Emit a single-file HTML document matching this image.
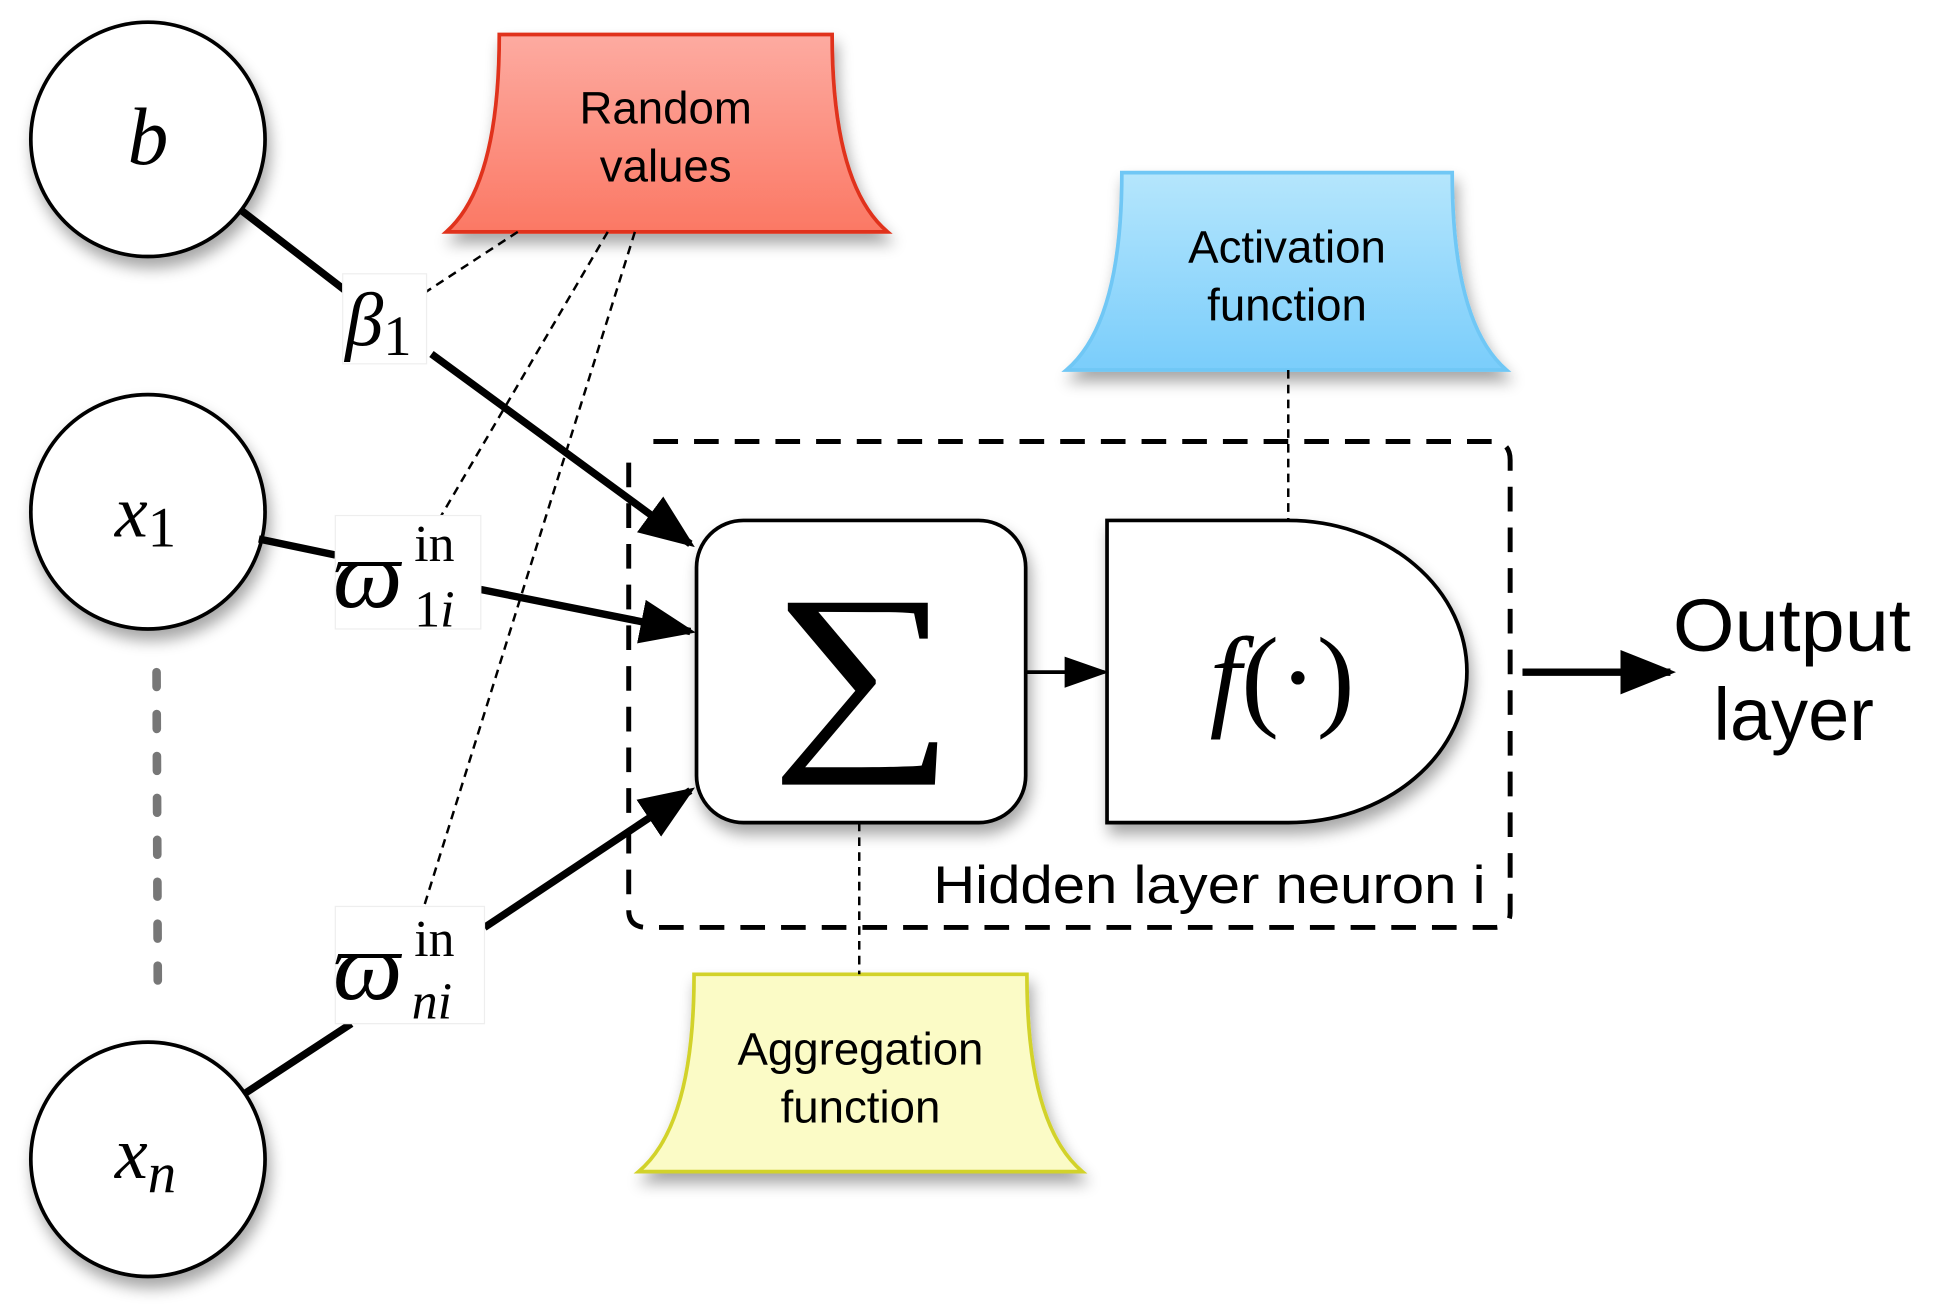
<!DOCTYPE html>
<html><head><meta charset="utf-8"><style>
html,body{margin:0;padding:0;background:#fff;width:1933px;height:1311px;overflow:hidden}
svg{display:block}
.s{font-family:"Liberation Sans",sans-serif}
.m{font-family:"Liberation Serif","DejaVu Serif",serif}
</style></head><body>
<svg width="1933" height="1311" viewBox="0 0 1568 1063" preserveAspectRatio="none" xmlns="http://www.w3.org/2000/svg">
<defs>
<linearGradient id="gr" x1="0" y1="0" x2="0" y2="1"><stop offset="0" stop-color="#fdaba1"/><stop offset="1" stop-color="#fb7864"/></linearGradient>
<linearGradient id="gb" x1="0" y1="0" x2="0" y2="1"><stop offset="0" stop-color="#b5e6fc"/><stop offset="1" stop-color="#7acdfb"/></linearGradient>
<filter id="sh" x="-20%" y="-20%" width="150%" height="150%"><feGaussianBlur in="SourceAlpha" stdDeviation="6"/><feOffset dx="3" dy="8"/><feComponentTransfer><feFuncA type="linear" slope="0.35"/></feComponentTransfer><feMerge><feMergeNode/><feMergeNode in="SourceGraphic"/></feMerge></filter>
<marker id="ah" viewBox="0 0 10 10" refX="9" refY="5" markerWidth="7.5" markerHeight="7.5" orient="auto" markerUnits="strokeWidth"><path d="M0,1 L10,5 L0,9z" fill="#000"/></marker>
<marker id="ah2" viewBox="0 0 10 10" refX="9" refY="5" markerWidth="12" markerHeight="12" orient="auto" markerUnits="strokeWidth"><path d="M0,1.5 L10,5 L0,8.5z" fill="#000"/></marker>
</defs>

<g fill="#fff" stroke="#000" stroke-width="3" filter="url(#sh)">
<ellipse cx="120" cy="113" rx="95" ry="95"/>
<ellipse cx="120" cy="415" rx="95" ry="95"/>
<ellipse cx="120" cy="940" rx="95" ry="95"/>
</g>
<text x="120" y="133" text-anchor="middle" class="m" font-style="italic" font-size="66">b</text>
<text x="118" y="435" text-anchor="middle" class="m" font-size="60"><tspan font-style="italic">x</tspan><tspan font-size="46" dy="8">1</tspan></text>
<text x="118" y="955" text-anchor="middle" class="m" font-size="60"><tspan font-style="italic">x</tspan><tspan font-size="46" font-style="italic" dy="12">n</tspan></text>
<line x1="127" y1="545" x2="128" y2="800" stroke="#777" stroke-width="7" stroke-dasharray="12 22" stroke-linecap="round"/>

<path d="M405,28 H675 Q675,150 720,188 H362 Q405,150 405,28Z" fill="url(#gr)" stroke="#e0301a" stroke-width="3" filter="url(#sh)"/>
<text x="540" y="100" text-anchor="middle" class="s" font-size="37">Random</text>
<text x="540" y="147" text-anchor="middle" class="s" font-size="37">values</text>
<path d="M910,140 H1178 Q1178,262 1222,300 H865 Q910,262 910,140Z" fill="url(#gb)" stroke="#6fc7f5" stroke-width="3" filter="url(#sh)"/>
<text x="1044" y="213" text-anchor="middle" class="s" font-size="37">Activation</text>
<text x="1044" y="260" text-anchor="middle" class="s" font-size="37">function</text>
<path d="M563,790 H833 Q833,912 878,950 H518 Q563,912 563,790Z" fill="#fbfbc6" stroke="#d2d22a" stroke-width="3" filter="url(#sh)"/>
<text x="698" y="863" text-anchor="middle" class="s" font-size="37">Aggregation</text>
<text x="698" y="910" text-anchor="middle" class="s" font-size="37">function</text>

<path d="M530,358 H1210 Q1225,358 1225,373 V740 Q1225,752 1212,752 H525 Q510,752 510,738 V372" fill="none" stroke="#000" stroke-width="4" stroke-dasharray="20 13"/>

<g stroke="#000" stroke-width="2" stroke-dasharray="7 5" fill="none">
<line x1="420" y1="188" x2="345" y2="237"/>
<line x1="493" y1="188" x2="358" y2="418"/>
<line x1="515" y1="188" x2="343" y2="738"/>
<line x1="1045" y1="300" x2="1045" y2="422"/>
<line x1="697" y1="667" x2="697" y2="790"/>
</g>

<rect x="565" y="422" width="267" height="245" rx="38" fill="#fff" stroke="#000" stroke-width="3" filter="url(#sh)"/>
<text x="700" y="600" text-anchor="middle" class="m" font-size="170" textLength="150" lengthAdjust="spacingAndGlyphs">∑</text>
<path d="M898,422 H1045 A145,122.5 0 0 1 1045,667 H898Z" fill="#fff" stroke="#000" stroke-width="3" filter="url(#sh)"/>
<text x="1040" y="580" text-anchor="middle" class="m" font-size="92"><tspan font-style="italic">f</tspan>(·)</text>
<line x1="832" y1="545" x2="896" y2="545" stroke="#000" stroke-width="3" marker-end="url(#ah2)"/>

<g stroke="#000" stroke-width="6" fill="none">
<line x1="195" y1="170" x2="282" y2="237"/>
<line x1="350" y1="287" x2="560" y2="441" marker-end="url(#ah)"/>
<line x1="210" y1="437" x2="272" y2="450"/>
<line x1="390" y1="478" x2="560" y2="512" marker-end="url(#ah)"/>
<line x1="198" y1="887" x2="285" y2="830"/>
<line x1="393" y1="752" x2="560" y2="641" marker-end="url(#ah)"/>
<line x1="1235" y1="545" x2="1355" y2="545" marker-end="url(#ah)"/>
</g>

<rect x="278" y="222" width="68" height="73" fill="#fff" stroke="#eee"/>
<text x="280" y="280" class="m" font-size="62"><tspan font-style="italic">β</tspan><tspan font-size="46" dy="8">1</tspan></text>
<rect x="272" y="418" width="118" height="92" fill="#fff" stroke="#eee"/>
<text x="270" y="492" class="m" font-size="80" font-style="italic">ϖ</text>
<text x="336" y="455" class="m" font-size="42">in</text>
<text x="336" y="508" class="m" font-size="42">1<tspan font-style="italic">i</tspan></text>
<rect x="272" y="735" width="121" height="95" fill="#fff" stroke="#eee"/>
<text x="270" y="810" class="m" font-size="80" font-style="italic">ϖ</text>
<text x="336" y="775" class="m" font-size="42">in</text>
<text x="334" y="826" class="m" font-size="42" font-style="italic">ni</text>

<text x="757" y="732" class="s" font-size="43" textLength="448" lengthAdjust="spacingAndGlyphs">Hidden layer neuron i</text>
<text x="1357" y="528" class="s" font-size="60" textLength="193" lengthAdjust="spacingAndGlyphs">Output</text>
<text x="1455" y="600" text-anchor="middle" class="s" font-size="60">layer</text>
</svg>
</body></html>
